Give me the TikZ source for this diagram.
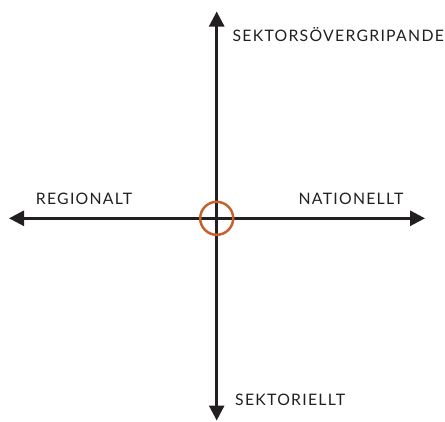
\documentclass[tikz,border=0pt]{standalone}
\usepackage{fontspec}
\setmainfont[LetterSpace=8]{Lato}
\usetikzlibrary{arrows.meta}
\definecolor{axisblack}{RGB}{35,31,32}
\definecolor{rustorange}{RGB}{196,98,45}
\begin{document}
\begin{tikzpicture}[x=1pt, y=-1pt,
        axis/.style={
            draw=axisblack,
            line width=2.7pt,
            {Triangle[length=15pt, width=15pt]}-{Triangle[length=15pt, width=15pt]}},
        tag/.style={
            inner sep=0pt,
            text=axisblack,
            font=\fontsize{15.8}{18}\selectfont},
        ring/.style={
            circle,
            draw=rustorange,
            line width=2.5pt,
            minimum size=33pt,
            inner sep=0pt}
        ]

        \useasboundingbox (0,0) rectangle (445,421);

        \coordinate (centre) at (216.7,218.3);
        \coordinate (top) at (216.7,11.5);
        \coordinate (bottom) at (216.7,420.5);
        \coordinate (left) at (9,218.3);
        \coordinate (right) at (425,218.3);

        \draw [axis] (bottom) -- (top);
        \draw [axis] (left) -- (right);
        \node (hub) [ring] at (centre) {};

        \node (cross) [tag, anchor=base east] at (444,41.7) {SEKTORSÖVERGRIPANDE};
        \node (regional) [tag, anchor=base west] at (35.7,204) {REGIONALT};
        \node (national) [tag, anchor=base east] at (403.5,204) {NATIONELLT};
        \node (sector) [tag, anchor=base west] at (235,405) {SEKTORIELLT};

\end{tikzpicture}
\end{document}
